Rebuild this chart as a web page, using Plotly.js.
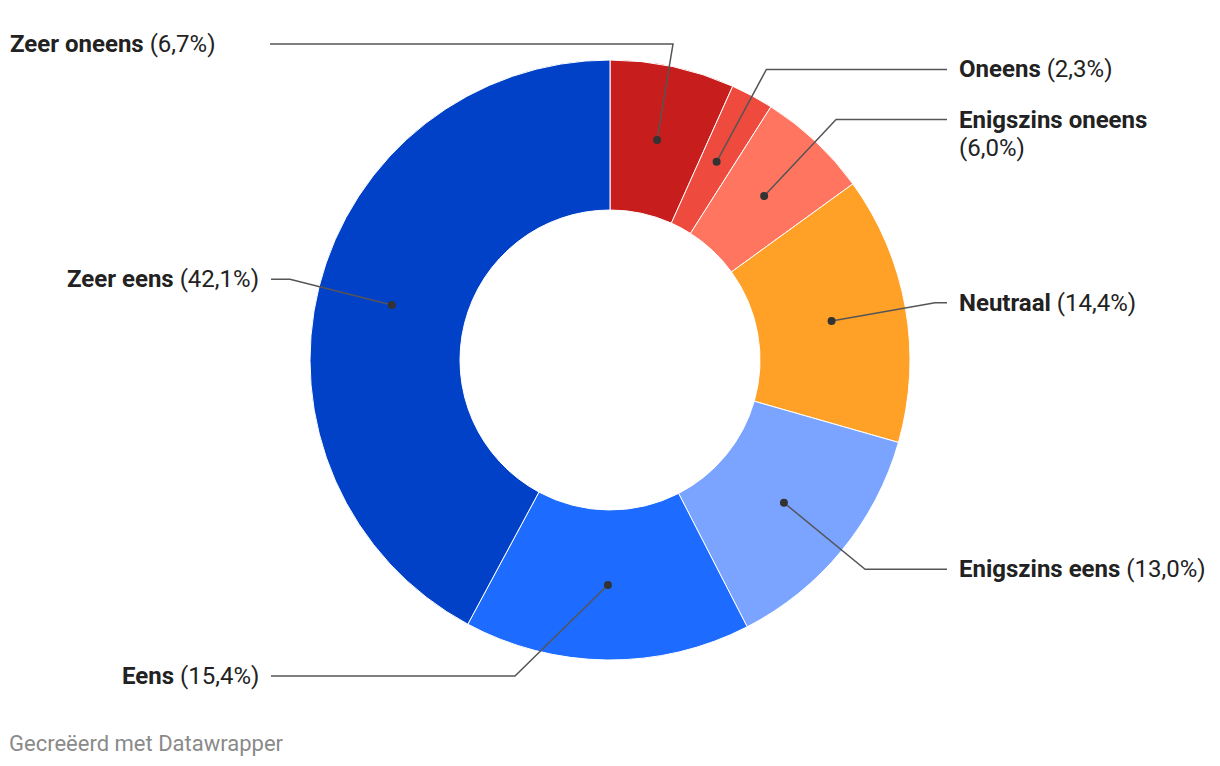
<!DOCTYPE html>
<html>
<head>
<meta charset="utf-8">
<script src="https://cdn.plot.ly/plotly-3.0.1.min.js"></script>
<style>html,body{margin:0;padding:0;background:#fff}#chart{width:1220px;height:766px}</style>
</head>
<body>
<div id="chart"></div>
<script>
// ---- data ----
const categories = ['Zeer oneens', 'Oneens', 'Enigszins oneens', 'Neutraal', 'Enigszins eens', 'Eens', 'Zeer eens'];
const values = [6.7, 2.3, 6.0, 14.4, 13.0, 15.4, 42.1];
const pctLabels = ['6,7%', '2,3%', '6,0%', '14,4%', '13,0%', '15,4%', '42,1%'];
const colors = ['#c71e1d', '#ee4a3e', '#ff7560', '#ffa126', '#7aa4ff', '#1d6bff', '#0041c8'];
const footer = 'Gecreëerd met Datawrapper';

// ---- layout constants (pixels) ----
const W = 1220, H = 766;
const CX = 610, CY = 360, R_OUT = 300;
const R_DOT = 225, R_ELBOW = 330;
const FONT_SIZE = 24;
// label placement per slice
const labelPlace = [
  {anchorX: 8, xanchor: 'left', lineEnd: 270, elbow: [673, 44]},
  {anchorX: 957, xanchor: 'left', lineEnd: 947},
  {anchorX: 957, xanchor: 'left', lineEnd: 947, wrap: 28},
  {anchorX: 957, xanchor: 'left', lineEnd: 947},
  {anchorX: 957, xanchor: 'left', lineEnd: 947},
  {anchorX: 261, xanchor: 'right', lineEnd: 271, elbow: [515, 676]},
  {anchorX: 261, xanchor: 'right', lineEnd: 271}
];

const total = values.reduce((a, b) => a + b, 0);
const shapes = [];
const annotations = [];
const labelFont = {family: 'Roboto', size: FONT_SIZE, color: '#222222'};
let cum = 0;
values.forEach((v, i) => {
  const mid = (cum + v / 2) / total * 2 * Math.PI;
  cum += v;
  const dot = [CX + R_DOT * Math.sin(mid), CY - R_DOT * Math.cos(mid)];
  const p = labelPlace[i];
  const elbow = p.elbow || [CX + R_ELBOW * Math.sin(mid), CY - R_ELBOW * Math.cos(mid)];
  const ly = elbow[1];
  shapes.push({type: 'path', xref: 'x', yref: 'y', layer: 'above',
    path: `M${dot[0]},${dot[1]} L${elbow[0]},${elbow[1]} L${p.lineEnd},${ly}`,
    line: {color: '#555555', width: 1.5}});
  shapes.push({type: 'circle', xref: 'x', yref: 'y', layer: 'above',
    x0: dot[0] - 4, x1: dot[0] + 4, y0: dot[1] - 4, y1: dot[1] + 4,
    fillcolor: '#333333', line: {width: 0}});
  const name = '<b>' + categories[i] + '</b>';
  const pct = '(' + pctLabels[i] + ')';
  if (p.wrap) {
    annotations.push({xref: 'x', yref: 'y', x: p.anchorX, y: ly, xanchor: p.xanchor, yanchor: 'middle',
      showarrow: false, text: name, font: labelFont});
    annotations.push({xref: 'x', yref: 'y', x: p.anchorX, y: ly + p.wrap, xanchor: p.xanchor, yanchor: 'middle',
      showarrow: false, text: pct, font: labelFont});
  } else {
    annotations.push({xref: 'x', yref: 'y', x: p.anchorX, y: ly, xanchor: p.xanchor, yanchor: 'middle',
      showarrow: false, text: name + ' ' + pct, font: labelFont});
  }
});
annotations.push({xref: 'x', yref: 'y', x: 7, y: 743, xanchor: 'left', yanchor: 'middle',
  showarrow: false, text: footer, font: {family: 'Roboto', size: 22, color: '#8a8a8a'}});

const data = [
  {type: 'pie', values: values, labels: categories, sort: false, direction: 'clockwise', rotation: 0,
   hole: 0.5, textinfo: 'none', hoverinfo: 'label+percent', showlegend: false,
   marker: {colors: colors, line: {color: '#ffffff', width: 1}},
   domain: {x: [(CX - R_OUT) / W, (CX + R_OUT) / W], y: [1 - (CY + R_OUT) / H, 1 - (CY - R_OUT) / H]}},
  {type: 'scatter', x: [], y: [], xaxis: 'x', yaxis: 'y', showlegend: false, hoverinfo: 'skip'}
];

const layout = {
  width: W, height: H, margin: {l: 0, r: 0, t: 0, b: 0},
  paper_bgcolor: '#ffffff', plot_bgcolor: 'rgba(0,0,0,0)',
  xaxis: {range: [0, W], visible: false, fixedrange: true},
  yaxis: {range: [H, 0], visible: false, fixedrange: true},
  shapes: shapes, annotations: annotations,
  font: {family: 'Roboto'}
};
Plotly.newPlot('chart', data, layout, {displayModeBar: false, staticPlot: true});
</script>
</body>
</html>
